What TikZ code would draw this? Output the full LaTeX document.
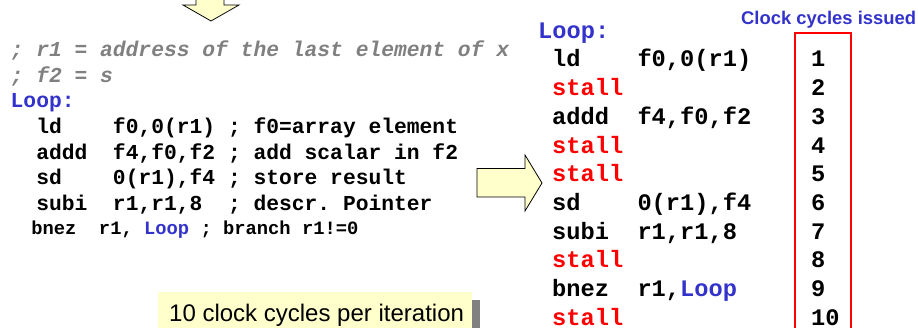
\documentclass[tikz,border=0pt]{standalone}
\usepackage{fontspec}
\setmainfont{Liberation Sans}
\setsansfont{Liberation Sans}
\setmonofont{Liberation Mono}
\usepackage{xcolor}
\definecolor{loopblue}{RGB}{51,51,204}
\definecolor{commentgray}{RGB}{128,128,128}
\definecolor{paleyellow}{RGB}{255,255,204}
\definecolor{shadowgray}{RGB}{128,128,128}
\usetikzlibrary{positioning}
\tikzstyle{code}=[anchor=base west, inner sep=0pt, font=\ttfamily\bfseries\fontsize{21.3}{25}\selectfont]
\tikzstyle{comment}=[code, text=commentgray, font=\ttfamily\bfseries\itshape\fontsize{21.3}{25}\selectfont]
\tikzstyle{smallcode}=[code, font=\ttfamily\bfseries\fontsize{18.8}{22}\selectfont]
\tikzstyle{bigcode}=[code, font=\ttfamily\bfseries\fontsize{23.7}{28}\selectfont]
\tikzstyle{stall}=[bigcode, text=red]
\tikzstyle{blockarrow}=[fill=paleyellow, draw=black, line width=0.8pt, line join=miter]
\newcommand{\loopword}{\textcolor{loopblue}{Loop}}

\begin{document}
\begin{tikzpicture}[x=1pt, y=-1pt]
		\useasboundingbox (0,0) rectangle (918,328);
		
		% arrows
		\draw[blockarrow](196,-3)--(196,5)--(183,5)--(211,21)--(239,5)--(224,5)--(224,-3)--cycle;
		\draw[blockarrow](477,168.5)--(525,168.5)--(525,155)--(542,183)--(525,211)--(525,197)--(477,197)--cycle;
		
		% left listing
		\node(l1)[comment] at (10.5,57){;~r1~=~address~of~the~last~element~of~x};
		\node(l2)[comment, below=25.5pt of l1.base west, anchor=base west]{;~f2~=~s};
		\node(l3)[code, text=loopblue, below=25.5pt of l2.base west, anchor=base west]{Loop:};
		\node(l4)[code, below=25.8pt of l3.base west, anchor=base west, xshift=25.6pt]{ld~~~~f0,0(r1)~;~f0=array~element};
		\node(l5)[code, below=25.6pt of l4.base west, anchor=base west]{addd~~f4,f0,f2~;~add~scalar~in~f2};
		\node(l6)[code, below=25.4pt of l5.base west, anchor=base west]{sd~~~~0(r1),f4~;~store~result};
		\node(l7)[code, below=25.6pt of l6.base west, anchor=base west]{subi~~r1,r1,8~~;~descr.~Pointer};
		\node(l8)[smallcode, below=24pt of l7.base west, anchor=base west, xshift=-5pt]{bnez~~r1,~\loopword~;~branch~r1!=0};
		
		% note
		\fill[shadowgray](166,300) rectangle (480,340);
		\fill[paleyellow](158,292) rectangle (472,340);
		\node(note)[anchor=base west, inner sep=0pt, font=\sffamily\fontsize{24}{28}\selectfont] at (169,322){10 clock cycles per iteration};
		
		% scheduled listing
		\node(r0)[bigcode, text=loopblue] at (538,39){Loop:};
		\node(r1)[bigcode] at (552,67){ld~~~~f0,0(r1)};
		\node(r2)[stall, below=28.7pt of r1.base west, anchor=base west]{stall};
		\node(r3)[bigcode, below=28.7pt of r2.base west, anchor=base west]{addd~~f4,f0,f2};
		\node(r4)[stall, below=28.7pt of r3.base west, anchor=base west]{stall};
		\node(r5)[stall, below=28.7pt of r4.base west, anchor=base west]{stall};
		\node(r6)[bigcode, below=28.7pt of r5.base west, anchor=base west]{sd~~~~0(r1),f4};
		\node(r7)[bigcode, below=28.7pt of r6.base west, anchor=base west]{subi~~r1,r1,8};
		\node(r8)[stall, below=28.7pt of r7.base west, anchor=base west]{stall};
		\node(r9)[bigcode, below=28.7pt of r8.base west, anchor=base west]{bnez~~r1,\loopword};
		\node(r10)[stall, below=28.7pt of r9.base west, anchor=base west]{stall};
		
		% cycle column
		\node(title)[anchor=base west, inner sep=0pt, text=loopblue, font=\sffamily\bfseries\fontsize{18.4}{21}\selectfont] at (741,25){Clock cycles issued};
		\draw[red, line width=2pt](795,340)--(795,33)--(851,33)--(851,340);
		\node(k1)[bigcode] at (811,67){1};
		\node(k2)[bigcode] at (k1.base west |- r2.base){2};
		\node(k3)[bigcode] at (k1.base west |- r3.base){3};
		\node(k4)[bigcode] at (k1.base west |- r4.base){4};
		\node(k5)[bigcode] at (k1.base west |- r5.base){5};
		\node(k6)[bigcode] at (k1.base west |- r6.base){6};
		\node(k7)[bigcode] at (k1.base west |- r7.base){7};
		\node(k8)[bigcode] at (k1.base west |- r8.base){8};
		\node(k9)[bigcode] at (k1.base west |- r9.base){9};
		\node(k10)[bigcode] at (k1.base west |- r10.base){10};
		
	\end{tikzpicture}
\end{document}
